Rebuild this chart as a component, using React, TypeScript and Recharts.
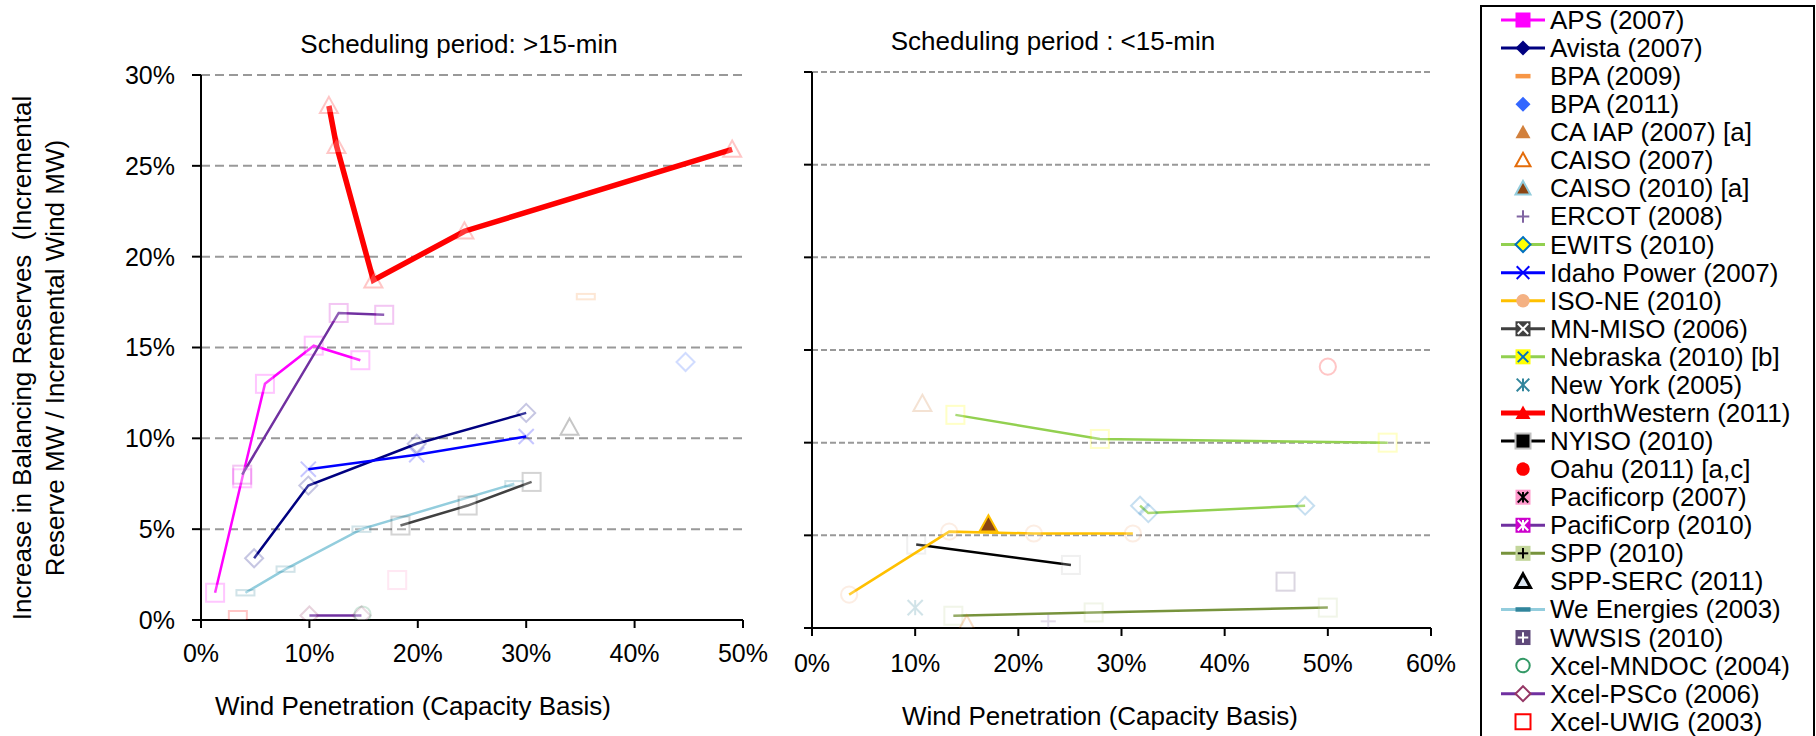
import React from 'react';
import { ScatterChart, Scatter, XAxis, YAxis, CartesianGrid } from 'recharts';

type Pt = { x: number; y: number };

const FONT = '"Liberation Sans", Arial, sans-serif';

// ---- left panel: scheduling period > 15 min (x = wind penetration %, y = reserves %)
const apsLeft: Pt[] = [{ x: 1.3, y: 1.5 }, { x: 3.8, y: 7.8 }, { x: 5.9, y: 13.0 }, { x: 10.4, y: 15.1 }, { x: 14.7, y: 14.3 }];
const avistaLeft: Pt[] = [{ x: 4.9, y: 3.4 }, { x: 9.9, y: 7.4 }, { x: 19.9, y: 9.7 }, { x: 30.0, y: 11.4 }];
const bpa2009Left: Pt[] = [{ x: 35.5, y: 17.8 }];
const bpa2011Left: Pt[] = [{ x: 44.7, y: 14.2 }];
const idahoLeft: Pt[] = [{ x: 9.9, y: 8.3 }, { x: 19.9, y: 9.1 }, { x: 30.0, y: 10.1 }];
const mnMisoLeft: Pt[] = [{ x: 18.4, y: 5.2 }, { x: 24.6, y: 6.3 }, { x: 30.5, y: 7.6 }];
const northWesternLeft: Pt[] = [{ x: 11.8, y: 28.3 }, { x: 12.5, y: 26.1 }, { x: 15.9, y: 18.7 }, { x: 24.3, y: 21.4 }, { x: 49.0, y: 25.9 }];
const pacificorp2007Left: Pt[] = [{ x: 18.1, y: 2.2 }];
const pacifiCorp2010Left: Pt[] = [{ x: 3.8, y: 8.0 }, { x: 12.7, y: 16.9 }, { x: 16.9, y: 16.8 }];
const sppSercLeft: Pt[] = [{ x: 34.0, y: 10.6 }];
const weEnergiesLeft: Pt[] = [{ x: 4.1, y: 1.5 }, { x: 7.8, y: 2.8 }, { x: 14.8, y: 5.0 }, { x: 28.9, y: 7.5 }];
const mndocLeft: Pt[] = [{ x: 14.9, y: 0.3 }];
const pscoLeft: Pt[] = [{ x: 10.0, y: 0.25 }, { x: 14.8, y: 0.25 }];
const uwigLeft: Pt[] = [{ x: 3.4, y: 0.0 }];

// ---- right panel: scheduling period < 15 min
const caIapRight: Pt[] = [{ x: 10.7, y: 12.1 }];
const caiso2007Right: Pt[] = [{ x: 15.0, y: 0.2 }];
const caiso2010Right: Pt[] = [{ x: 17.1, y: 5.6 }];
const ercotRight: Pt[] = [{ x: 22.9, y: 0.36 }];
const ewitsRight: Pt[] = [{ x: 31.8, y: 6.6 }, { x: 32.6, y: 6.2 }, { x: 47.8, y: 6.6 }];
const nebraskaRight: Pt[] = [{ x: 13.9, y: 11.5 }, { x: 27.9, y: 10.2 }, { x: 55.8, y: 10.0 }];
const isoNeRight: Pt[] = [{ x: 3.6, y: 1.8 }, { x: 13.3, y: 5.2 }, { x: 21.5, y: 5.1 }, { x: 31.1, y: 5.1 }];
const nyisoRight: Pt[] = [{ x: 10.1, y: 4.5 }, { x: 25.1, y: 3.4 }];
const newYorkRight: Pt[] = [{ x: 10.0, y: 1.1 }];
const sppRight: Pt[] = [{ x: 13.7, y: 0.66 }, { x: 27.3, y: 0.84 }, { x: 50.0, y: 1.1 }];
const wwsisRight: Pt[] = [{ x: 45.9, y: 2.5 }];
const oahuRight: Pt[] = [{ x: 50.0, y: 14.1 }];

const leftTicksX = [0, 10, 20, 30, 40, 50];
const rightTicksX = [0, 10, 20, 30, 40, 50, 60];
const ticksY = [0, 5, 10, 15, 20, 25, 30];

const legendNames = [
  'APS (2007)', 'Avista (2007)', 'BPA (2009)', 'BPA (2011)', 'CA IAP (2007) [a]', 'CAISO (2007)',
  'CAISO (2010) [a]', 'ERCOT (2008)', 'EWITS (2010)', 'Idaho Power (2007)', 'ISO-NE (2010)',
  'MN-MISO (2006)', 'Nebraska (2010) [b]', 'New York (2005)', 'NorthWestern (2011)', 'NYISO (2010)',
  'Oahu (2011) [a,c]', 'Pacificorp (2007)', 'PacifiCorp (2010)', 'SPP (2010)', 'SPP-SERC (2011)',
  'We Energies (2003)', 'WWSIS (2010)', 'Xcel-MNDOC (2004)', 'Xcel-PSCo (2006)', 'Xcel-UWIG (2003)',
];

type Style = {
  kind: string;
  fill?: string;
  stroke?: string;
  inner?: string;
  sw?: number;
  line?: string;
  lw?: number;
  solid?: boolean; // drawn at full strength inside the plot
  plotStroke?: string;
};

const STYLES: Record<string, Style> = {
  'APS (2007)': { kind: 'square', fill: '#FF00FF', line: '#FF00FF', lw: 2.5 },
  'Avista (2007)': { kind: 'diamond', fill: '#000080', line: '#000080', lw: 2.5 },
  'BPA (2009)': { kind: 'dash', fill: '#F79646' },
  'BPA (2011)': { kind: 'diamond', fill: '#3366FF' },
  'CA IAP (2007) [a]': { kind: 'triangle', fill: '#D2803C' },
  'CAISO (2007)': { kind: 'triangle', fill: '#fff', stroke: '#E46C0A', sw: 2 },
  'CAISO (2010) [a]': { kind: 'triangle', fill: '#8B4513', stroke: '#93CDDD', sw: 2, solid: true, plotStroke: '#FFC000' },
  'ERCOT (2008)': { kind: 'plus', stroke: '#8064A2', sw: 2 },
  'EWITS (2010)': { kind: 'diamond', fill: '#FFFF00', stroke: '#0070C0', sw: 2, line: '#92D050', lw: 2.5 },
  'Idaho Power (2007)': { kind: 'x', stroke: '#0000FF', sw: 2, line: '#0000FF', lw: 2.5 },
  'ISO-NE (2010)': { kind: 'circle', fill: '#F4B183', line: '#FFC000', lw: 2.5 },
  'MN-MISO (2006)': { kind: 'squareX', fill: '#404040', inner: '#fff', line: '#404040', lw: 2.5 },
  'Nebraska (2010) [b]': { kind: 'squareX', fill: '#FFFF00', inner: '#0070C0', line: '#92D050', lw: 2.5 },
  'New York (2005)': { kind: 'asterisk', stroke: '#31859C', sw: 2 },
  'NorthWestern (2011)': { kind: 'triangle', fill: '#FF0000', line: '#FF0000', lw: 5.5 },
  'NYISO (2010)': { kind: 'square', fill: '#000', stroke: '#BFBFBF', sw: 2, line: '#000', lw: 2.5 },
  'Oahu (2011) [a,c]': { kind: 'circle', fill: '#FF0000' },
  'Pacificorp (2007)': { kind: 'squareAsterisk', fill: '#FF99CC', inner: '#000' },
  'PacifiCorp (2010)': { kind: 'squareAsterisk', fill: '#CC00CC', inner: '#fff', line: '#7030A0', lw: 2.5 },
  'SPP (2010)': { kind: 'squarePlus', fill: '#C3D69B', inner: '#000', line: '#77933C', lw: 2.5 },
  'SPP-SERC (2011)': { kind: 'triangle', fill: '#DCE6F2', stroke: '#000', sw: 3 },
  'We Energies (2003)': { kind: 'dash', fill: '#31859C', line: '#93CDDD', lw: 2.5 },
  'WWSIS (2010)': { kind: 'squarePlus', fill: '#5F497A', inner: '#fff' },
  'Xcel-MNDOC (2004)': { kind: 'circle', fill: '#fff', stroke: '#339966', sw: 2 },
  'Xcel-PSCo (2006)': { kind: 'diamond', fill: '#fff', stroke: '#953765', sw: 2, line: '#7030A0', lw: 2.5 },
  'Xcel-UWIG (2003)': { kind: 'square', fill: '#fff', stroke: '#FF0000', sw: 2 },
};

const leftSeries: { name: string; data: Pt[] }[] = [
  { name: 'We Energies (2003)', data: weEnergiesLeft },
  { name: 'MN-MISO (2006)', data: mnMisoLeft },
  { name: 'Xcel-PSCo (2006)', data: pscoLeft },
  { name: 'Xcel-MNDOC (2004)', data: mndocLeft },
  { name: 'Xcel-UWIG (2003)', data: uwigLeft },
  { name: 'Pacificorp (2007)', data: pacificorp2007Left },
  { name: 'Avista (2007)', data: avistaLeft },
  { name: 'Idaho Power (2007)', data: idahoLeft },
  { name: 'APS (2007)', data: apsLeft },
  { name: 'PacifiCorp (2010)', data: pacifiCorp2010Left },
  { name: 'SPP-SERC (2011)', data: sppSercLeft },
  { name: 'BPA (2009)', data: bpa2009Left },
  { name: 'BPA (2011)', data: bpa2011Left },
  { name: 'NorthWestern (2011)', data: northWesternLeft },
];

const rightSeries: { name: string; data: Pt[] }[] = [
  { name: 'SPP (2010)', data: sppRight },
  { name: 'CAISO (2007)', data: caiso2007Right },
  { name: 'ERCOT (2008)', data: ercotRight },
  { name: 'New York (2005)', data: newYorkRight },
  { name: 'WWSIS (2010)', data: wwsisRight },
  { name: 'NYISO (2010)', data: nyisoRight },
  { name: 'ISO-NE (2010)', data: isoNeRight },
  { name: 'CAISO (2010) [a]', data: caiso2010Right },
  { name: 'EWITS (2010)', data: ewitsRight },
  { name: 'Nebraska (2010) [b]', data: nebraskaRight },
  { name: 'CA IAP (2007) [a]', data: caIapRight },
  { name: 'Oahu (2011) [a,c]', data: oahuRight },
];

const pct = (v: number) => `${v}%`;
const blank = () => '';

function Inner({ kind, cx, cy, h, color }: { kind: string; cx: number; cy: number; h: number; color: string }) {
  const k = h * 0.7;
  const p = { stroke: color, strokeWidth: 2 };
  if (kind === 'x') {
    return (
      <g>
        <line x1={cx - k} y1={cy - k} x2={cx + k} y2={cy + k} {...p} />
        <line x1={cx - k} y1={cy + k} x2={cx + k} y2={cy - k} {...p} />
      </g>
    );
  }
  if (kind === 'plus') {
    return (
      <g>
        <line x1={cx - k} y1={cy} x2={cx + k} y2={cy} {...p} />
        <line x1={cx} y1={cy - k} x2={cx} y2={cy + k} {...p} />
      </g>
    );
  }
  return (
    <g>
      <line x1={cx - k} y1={cy - k} x2={cx + k} y2={cy + k} {...p} />
      <line x1={cx - k} y1={cy + k} x2={cx + k} y2={cy - k} {...p} />
      <line x1={cx} y1={cy - k} x2={cx} y2={cy + k} {...p} />
    </g>
  );
}

function Mark({ cx, cy, s, size, pale }: { cx: number; cy: number; s: Style; size: number; pale: boolean }) {
  if (cx == null || cy == null) return <g />;
  const usePale = pale && !s.solid;
  const main = s.stroke || s.fill || '#000';
  const fill = usePale ? '#fff' : s.fill || 'none';
  const stroke = usePale ? main : (pale && s.plotStroke) || s.stroke || 'none';
  const sw = usePale ? 2 : s.sw || 1.5;
  const h = size / 2;
  const op = usePale ? 0.22 : 1;
  const base = { fill, stroke, strokeWidth: sw };
  let body: React.ReactNode = null;
  switch (s.kind) {
    case 'square':
    case 'squareX':
    case 'squarePlus':
    case 'squareAsterisk':
      body = (
        <g>
          <rect x={cx - h} y={cy - h} width={size} height={size} {...base} />
          {!usePale && s.kind !== 'square' && (
            <Inner kind={s.kind === 'squareX' ? 'x' : s.kind === 'squarePlus' ? 'plus' : 'ast'} cx={cx} cy={cy} h={h} color={s.inner || '#000'} />
          )}
        </g>
      );
      break;
    case 'diamond':
      body = <polygon points={`${cx},${cy - h} ${cx + h},${cy} ${cx},${cy + h} ${cx - h},${cy}`} {...base} />;
      break;
    case 'triangle':
      body = <polygon points={`${cx},${cy - h} ${cx + h},${cy + h * 0.8} ${cx - h},${cy + h * 0.8}`} {...base} />;
      break;
    case 'circle':
      body = <circle cx={cx} cy={cy} r={h * 0.9} {...base} />;
      break;
    case 'dash':
      body = <rect x={cx - h} y={cy - h * 0.3} width={size} height={h * 0.6} {...base} />;
      break;
    case 'x':
    case 'plus':
    case 'asterisk':
      body = <Inner kind={s.kind === 'asterisk' ? 'ast' : s.kind} cx={cx} cy={cy} h={h * 1.2} color={main} />;
      break;
  }
  return <g opacity={op}>{body}</g>;
}

function renderSeries(list: { name: string; data: Pt[] }[]) {
  return list.map((sr) => {
    const st = STYLES[sr.name];
    return (
      <Scatter
        key={sr.name}
        name={sr.name}
        data={sr.data}
        isAnimationActive={false}
        line={st.line ? { stroke: st.line, strokeWidth: st.lw || 2.5 } : false}
        lineJointType="linear"
        shape={(p: any) => <Mark cx={p.cx} cy={p.cy} s={st} size={18} pale />}
      />
    );
  });
}

const axisStyle = { stroke: '#000', strokeWidth: 2 };
const tickStyle = { fill: '#000', fontSize: 25, fontFamily: FONT };

export default function App() {
  const legendTop = 20;
  const legendStep = 28.07;
  return (
    <div style={{ position: 'absolute', left: 0, top: 0, width: 1816, height: 736, background: '#fff', overflow: 'hidden', fontFamily: FONT }}>
      <div style={{ position: 'absolute', left: 0, top: 0 }}>
        <ScatterChart width={770} height={736} margin={{ top: 75, right: 27, bottom: 66, left: 131 }}>
          <CartesianGrid vertical={false} stroke="#999" strokeWidth={2} strokeDasharray="9 5" />
          <XAxis
            type="number"
            dataKey="x"
            domain={[0, 50]}
            ticks={leftTicksX}
            tickFormatter={pct}
            allowDataOverflow
            height={50}
            axisLine={axisStyle}
            tickLine={axisStyle}
            tickSize={8}
            tickMargin={16}
            tick={tickStyle}
          />
          <YAxis
            type="number"
            dataKey="y"
            domain={[0, 30]}
            ticks={ticksY}
            tickFormatter={pct}
            allowDataOverflow
            width={70}
            axisLine={axisStyle}
            tickLine={axisStyle}
            tickSize={9}
            tickMargin={17}
            tick={tickStyle}
          />
          {renderSeries(leftSeries)}
        </ScatterChart>
      </div>
      <div style={{ position: 'absolute', left: 770, top: 0 }}>
        <ScatterChart width={700} height={736} margin={{ top: 72, right: 39, bottom: 58, left: 22 }}>
          <CartesianGrid vertical={false} stroke="#999" strokeWidth={2} strokeDasharray="6 3" />
          <XAxis
            type="number"
            dataKey="x"
            domain={[0, 60]}
            ticks={rightTicksX}
            tickFormatter={pct}
            allowDataOverflow
            height={50}
            axisLine={axisStyle}
            tickLine={axisStyle}
            tickSize={8}
            tickMargin={18}
            tick={tickStyle}
          />
          <YAxis
            type="number"
            dataKey="y"
            domain={[0, 30]}
            ticks={ticksY}
            tickFormatter={blank}
            allowDataOverflow
            width={20}
            axisLine={axisStyle}
            tickLine={axisStyle}
            tickSize={8}
            tick={tickStyle}
          />
          {renderSeries(rightSeries)}
        </ScatterChart>
      </div>
      <svg width={1816} height={736} style={{ position: 'absolute', left: 0, top: 0, pointerEvents: 'none' }} fontFamily={FONT}>
        <text x={459} y={53} fontSize={26} textAnchor="middle" fill="#000">Scheduling period: &gt;15-min</text>
        <text x={1053} y={50} fontSize={26} textAnchor="middle" fill="#000">Scheduling period : &lt;15-min</text>
        <text x={413} y={715} fontSize={26} textAnchor="middle" fill="#000">Wind Penetration (Capacity Basis)</text>
        <text x={1100} y={725} fontSize={26} textAnchor="middle" fill="#000">Wind Penetration (Capacity Basis)</text>
        <text transform="translate(31,358) rotate(-90)" fontSize={26} textAnchor="middle" fill="#000" xmlSpace="preserve">
          Increase in Balancing Reserves  (Incremental
        </text>
        <text transform="translate(64,358) rotate(-90)" fontSize={26} textAnchor="middle" fill="#000">
          Reserve MW / Incremental Wind MW)
        </text>
        <rect x={1481} y={6} width={333} height={800} fill="none" stroke="#000" strokeWidth={2} />
        {legendNames.map((name, i) => {
          const st = STYLES[name];
          const cy = legendTop + i * legendStep;
          return (
            <g key={name}>
              {st.line && <line x1={1501} x2={1545} y1={cy} y2={cy} stroke={st.line} strokeWidth={st.lw && st.lw > 4 ? 5 : 3} />}
              <Mark cx={1523} cy={cy} s={st} size={15} pale={false} />
              <text x={1550} y={cy + 9} fontSize={26} fill="#000">{name}</text>
            </g>
          );
        })}
      </svg>
    </div>
  );
}
